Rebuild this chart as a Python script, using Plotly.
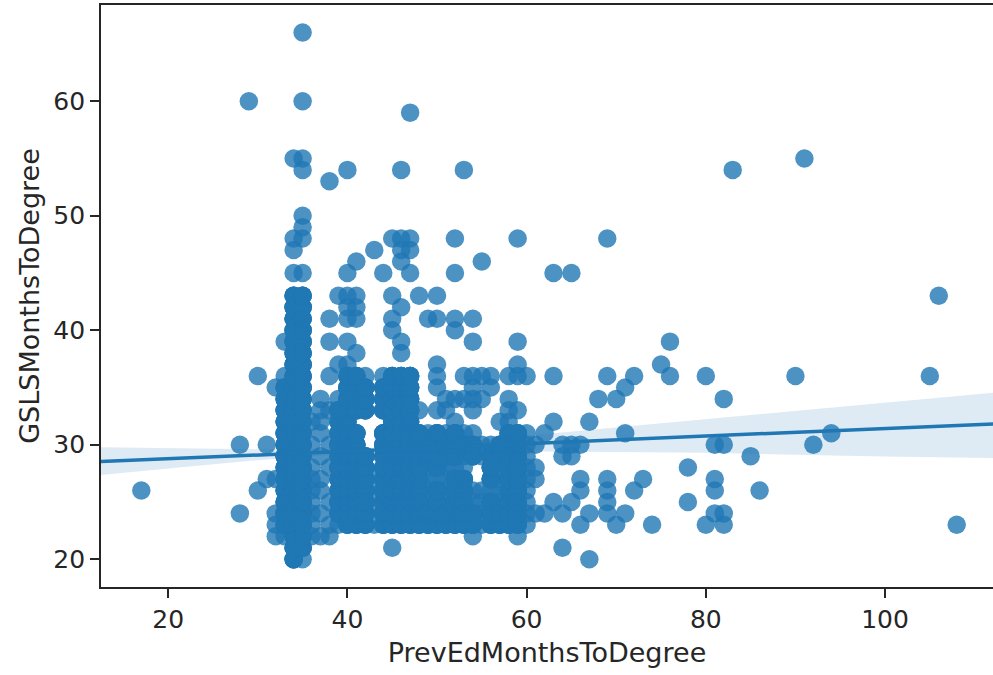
import plotly.graph_objects as go

# ---- scatter data, read column by column (x = PrevEdMonthsToDegree) ----
col_x = [17, 28, 29, 30, 31, 32, 33, 34, 35, 36, 37, 38, 39, 40, 41, 42, 43, 44, 45, 46, 47,
         48, 49, 50, 51, 52, 53, 54, 55, 56, 57, 58, 59, 60, 61, 62, 63, 64, 65, 66, 67, 68,
         69, 70, 71, 72, 73, 74, 75, 76, 78, 80, 81, 82, 83, 85, 86, 90, 91, 92, 94, 105, 106, 108]
col_y = [
    [26],
    [24, 30],
    [60],
    [26, 36],
    [27, 30],
    [22, 23, 24, 27, 35],
    [22, 23, 24, 25, 26, 27, 28, 29, 30, 31, 32, 33, 34, 35, 36, 39],
    [20, 21, 22, 23, 24, 25, 26, 27, 28, 29, 30, 31, 32, 33, 34, 35, 36, 37, 38, 39, 40, 41, 42, 43, 45, 47, 48, 55],
    [20, 21, 22, 23, 24, 25, 26, 27, 28, 29, 30, 31, 32, 33, 34, 35, 36, 37, 38, 39, 40, 41, 42, 43, 45, 48, 49, 50, 54, 55, 60, 66],
    [22, 23, 24, 25, 26, 27, 28, 30, 32],
    [22, 24, 26, 27, 29, 31, 32, 33, 34],
    [22, 23, 25, 28, 30, 33, 36, 39, 41, 53],
    [23, 24, 25, 26, 27, 28, 29, 30, 31, 32, 33, 34, 37, 43],
    [23, 24, 25, 26, 27, 28, 29, 30, 31, 32, 33, 34, 35, 36, 37, 39, 41, 42, 43, 45, 54],
    [23, 24, 25, 26, 27, 28, 29, 30, 31, 33, 34, 35, 36, 38, 41, 42, 43, 46],
    [23, 24, 25, 26, 27, 28, 29, 33, 34, 35, 36],
    [23, 25, 27, 47],
    [23, 24, 25, 26, 27, 28, 29, 30, 31, 33, 34, 35, 36, 45],
    [21, 23, 24, 25, 26, 27, 28, 29, 30, 31, 32, 33, 34, 35, 36, 40, 41, 43, 48],
    [23, 24, 25, 26, 27, 28, 29, 30, 31, 32, 33, 34, 35, 36, 38, 39, 42, 46, 47, 48, 54],
    [23, 24, 25, 26, 27, 28, 29, 30, 31, 32, 33, 34, 35, 36, 45, 47, 48, 59],
    [23, 24, 25, 26, 27, 28, 29, 30, 31, 33, 43],
    [23, 24, 25, 26, 27, 28, 29, 30, 31, 41],
    [23, 24, 25, 26, 27, 28, 29, 30, 31, 33, 35, 36, 37, 41, 43],
    [23, 24, 25, 26, 27, 28, 29, 30, 31, 33, 34],
    [23, 24, 25, 26, 27, 28, 29, 30, 31, 32, 34, 40, 41, 45, 48],
    [23, 24, 25, 26, 27, 28, 29, 30, 31, 34, 36, 54],
    [22, 23, 24, 25, 26, 29, 30, 31, 33, 34, 35, 36, 39, 41],
    [23, 24, 25, 26, 29, 30, 34, 36, 46],
    [23, 24, 25, 26, 27, 28, 29, 30, 35, 36],
    [23, 24, 25, 26, 27, 28, 29, 30, 32],
    [23, 24, 25, 26, 27, 28, 29, 30, 31, 32, 33, 34, 36],
    [22, 23, 24, 25, 26, 27, 28, 29, 30, 31, 33, 36, 37, 39, 48],
    [23, 24, 25, 26, 27, 28, 29, 30, 31, 36],
    [24, 27, 28, 30],
    [24, 31],
    [25, 32, 36, 45],
    [21, 24, 29, 30],
    [25, 29, 30, 45],
    [23, 26, 27, 30],
    [20, 24, 32],
    [34],
    [24, 25, 26, 27, 36, 48],
    [23, 34],
    [24, 31, 35],
    [26, 36],
    [27],
    [23],
    [37],
    [36, 39],
    [25, 28],
    [23, 36],
    [24, 26, 27, 30],
    [23, 24, 30, 34],
    [54],
    [29],
    [26],
    [36],
    [55],
    [30],
    [31],
    [36],
    [43],
    [23],
]

# repeated (duplicate) records in the densest cells, with their estimated repeat count
dup_x = [33, 34, 35, 39, 40, 41, 42, 44, 45, 46, 47,
         48, 49, 50, 51, 52, 53, 54, 56, 57, 58, 59]
dup_y = [
    [23, 24, 25, 26, 27, 28, 29, 30, 31, 32, 33, 34, 35],
    [20, 21, 22, 23, 24, 25, 26, 27, 28, 29, 30, 31, 32, 33, 34, 35, 36, 37, 38, 39, 40, 41, 42, 43],
    [21, 22, 23, 24, 25, 26, 27, 28, 29, 30, 31, 32, 33, 34, 35, 36, 37, 38, 39, 40, 41, 42, 43],
    [24, 25, 26, 27, 28, 29, 30, 31, 32, 33],
    [23, 24, 25, 26, 27, 28, 29, 30, 31, 32, 33, 34, 35, 36],
    [23, 24, 25, 26, 27, 28, 29, 30, 31, 33, 34, 35, 36],
    [23, 24, 25, 26, 27, 28, 29, 33, 34, 35],
    [23, 24, 25, 26, 27, 28, 29, 30, 31, 33, 34, 35],
    [23, 24, 25, 26, 27, 28, 29, 30, 31, 32, 33, 34, 35, 36],
    [23, 24, 25, 26, 27, 28, 29, 30, 31, 32, 33, 34, 35, 36],
    [23, 24, 25, 26, 27, 28, 29, 30, 31, 32, 33, 34, 35, 36],
    [23, 24, 25, 26, 27, 28, 29, 30, 31],
    [23, 24, 29, 30],
    [23, 24, 25, 26, 28, 29, 30, 31],
    [23, 24, 29, 30],
    [23, 24, 25, 26, 27, 29, 30, 31],
    [23, 24, 25, 26, 27, 30],
    [23, 24, 29, 30],
    [23, 24, 25, 27, 28, 29],
    [23, 24, 29, 30],
    [23, 24, 25, 26, 27, 28, 29, 30, 31],
    [23, 24, 25, 26, 27, 28, 29, 30, 31],
]
dup_n = 3

# ---- regression line and confidence band ----
fit_x = [12.45, 20, 30, 40, 50, 60, 70, 80, 90, 100, 112.55]
fit_y = [28.52, 28.77, 29.10, 29.43, 29.76, 30.09, 30.42, 30.75, 31.08, 31.41, 31.83]
ci_hi = [29.77, 29.67, 29.60, 29.63, 30.06, 30.79, 31.52, 32.25, 32.98, 33.71, 34.58]
ci_lo = [27.35, 27.92, 28.65, 29.23, 29.46, 29.44, 29.37, 29.30, 29.13, 28.96, 28.83]

x_ticks = [20, 40, 60, 80, 100]
y_ticks = [20, 30, 40, 50, 60]

xs, ys = [], []
for cx, cys in zip(col_x, col_y):
    for cy in cys:
        xs.append(cx)
        ys.append(cy)
for cx, cys in zip(dup_x, dup_y):
    for cy in cys:
        for _ in range(dup_n):
            xs.append(cx)
            ys.append(cy)

blue = "#1f77b4"
fig = go.Figure()
fig.add_trace(go.Scatter(
    x=xs, y=ys, mode="markers",
    marker=dict(size=18.5, color=blue, opacity=0.8, line=dict(width=0)),
    hoverinfo="skip", showlegend=False))
fig.add_trace(go.Scatter(
    x=fit_x + fit_x[::-1], y=ci_hi + ci_lo[::-1], mode="lines",
    fill="toself", fillcolor="rgba(31,119,180,0.15)", line=dict(width=0),
    hoverinfo="skip", showlegend=False))
fig.add_trace(go.Scatter(
    x=fit_x, y=fit_y, mode="lines", line=dict(color=blue, width=3.5),
    hoverinfo="skip", showlegend=False))

tick_font = dict(family="DejaVu Sans", size=25, color="#262626")
title_font = dict(family="DejaVu Sans", size=27, color="#262626")
fig.update_layout(
    width=993, height=675,
    margin=dict(l=101, r=0, t=5, b=88),
    paper_bgcolor="white", plot_bgcolor="white",
    font=tick_font,
    xaxis=dict(
        range=[12.5, 112.05], tickvals=x_ticks, ticktext=[str(v) for v in x_ticks],
        showgrid=False, zeroline=False, showline=True, mirror=True,
        linecolor="#262626", linewidth=1.8,
        ticks="outside", ticklen=9, tickwidth=1.8, tickcolor="#262626",
        tickfont=tick_font,
        title=dict(text="PrevEdMonthsToDegree", font=title_font, standoff=10)),
    yaxis=dict(
        range=[17.57, 68.4], tickvals=y_ticks, ticktext=[str(v) for v in y_ticks],
        showgrid=False, zeroline=False, showline=True, mirror=False,
        linecolor="#262626", linewidth=1.8,
        ticks="outside", ticklen=9, tickwidth=1.8, tickcolor="#262626",
        tickfont=tick_font,
        title=dict(text="GSLSMonthsToDegree", font=title_font, standoff=6)),
)

fig.write_html("out.html")
